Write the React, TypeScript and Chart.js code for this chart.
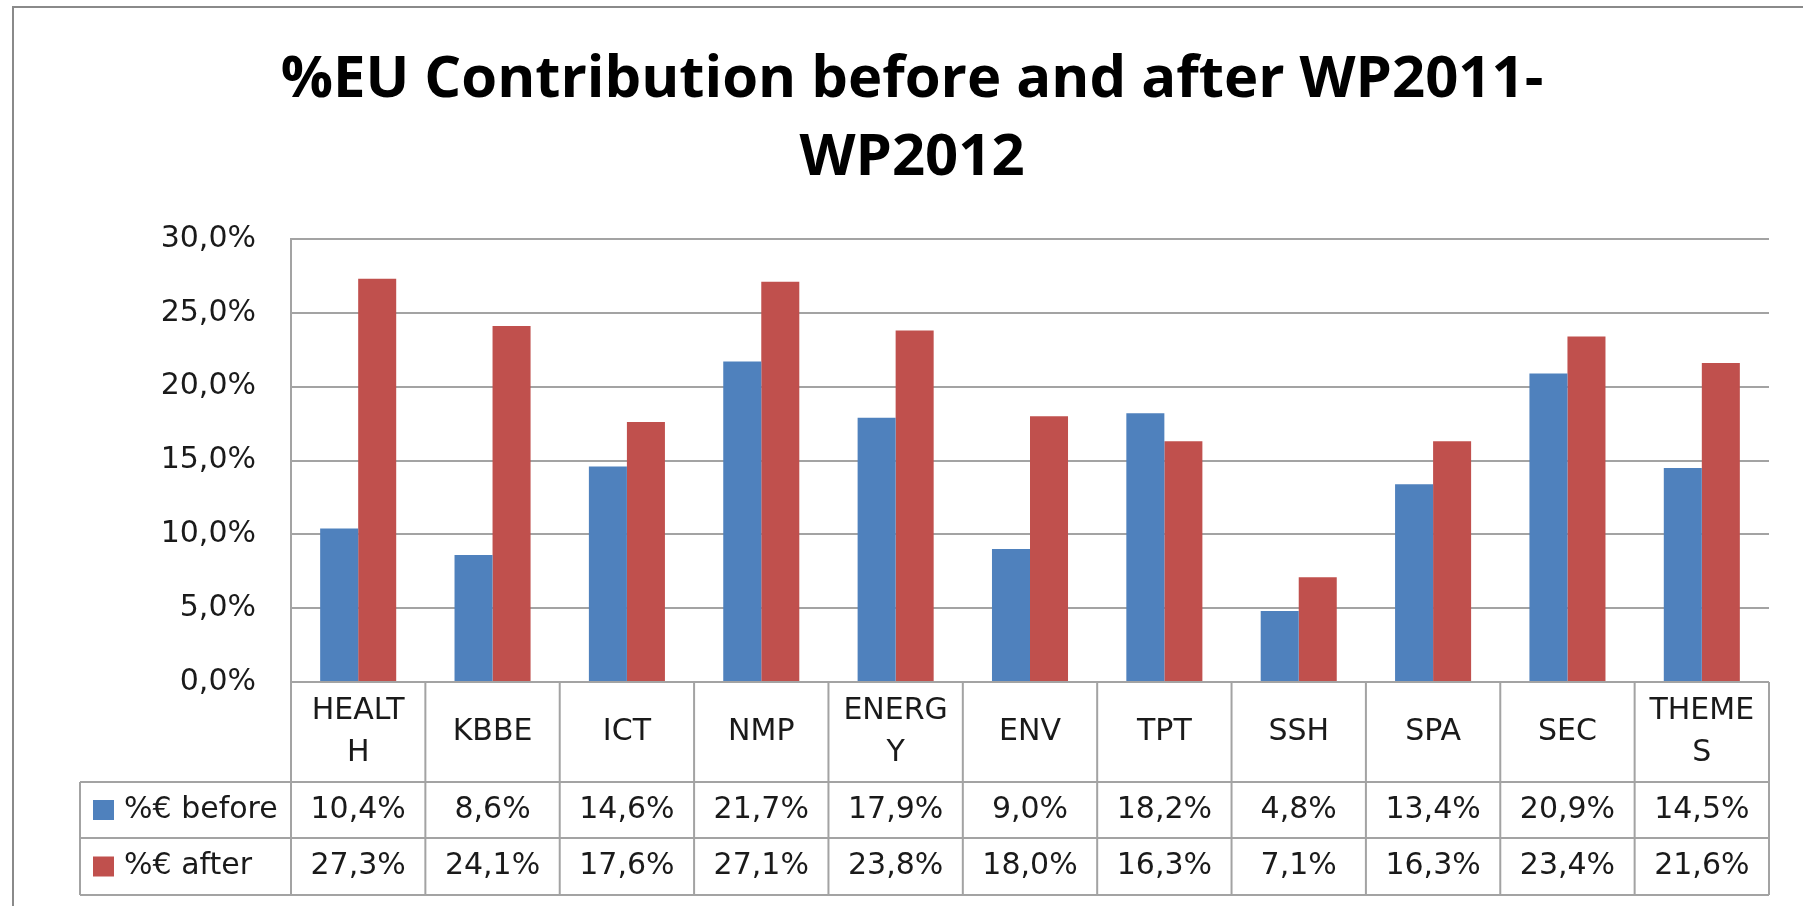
import React, { useEffect, useRef } from "react";
import { Chart, registerables } from "chart.js";

Chart.register(...registerables);

const categories = ["HEALTH", "KBBE", "ICT", "NMP", "ENERGY", "ENV", "TPT", "SSH", "SPA", "SEC", "THEMES"];
const categoryLabels = [["HEALT", "H"], ["KBBE"], ["ICT"], ["NMP"], ["ENERG", "Y"], ["ENV"], ["TPT"], ["SSH"], ["SPA"], ["SEC"], ["THEME", "S"]];
const beforeValues = [10.4, 8.6, 14.6, 21.7, 17.9, 9.0, 18.2, 4.8, 13.4, 20.9, 14.5];
const afterValues = [27.3, 24.1, 17.6, 27.1, 23.8, 18.0, 16.3, 7.1, 16.3, 23.4, 21.6];
const seriesNames = ["%€ before", "%€ after"];
const seriesColors = ["#4F81BD", "#C0504D"];
const titleLines = ["%EU Contribution before and after WP2011-", "WP2012"];
const yMin = 0;
const yMax = 30;
const yStep = 5;

const fmt = (v: number) => v.toFixed(1).replace(".", ",") + "%";

const TEXT = "#1a1a1a";
const LINE = "#a3a3a3";
const BODY_FONT = '30px "DejaVu Sans"';

const framePlugin = {
  id: "frame",
  beforeDraw(chart: any) {
    const ctx = chart.ctx;
    ctx.save();
    ctx.fillStyle = "#ffffff";
    ctx.fillRect(0, 0, chart.width, chart.height);
    ctx.strokeStyle = "#8a8a8a";
    ctx.lineWidth = 2;
    ctx.strokeRect(13, 7, chart.width + 20, chart.height + 20);
    ctx.restore();
  },
};

const tablePlugin = {
  id: "dataTable",
  afterDraw(chart: any) {
    const ctx = chart.ctx;
    const area = chart.chartArea;
    const xs = chart.scales.x;
    const n = chart.data.labels.length;
    const colW = (area.right - area.left) / n;
    const top = area.bottom;
    const r1 = top + 100;
    const r2 = top + 156;
    const r3 = top + 213;
    const legendLeft = 80;

    ctx.save();
    ctx.strokeStyle = LINE;
    ctx.lineWidth = 2;
    ctx.beginPath();
    [r1, r2, r3].forEach((y) => {
      ctx.moveTo(legendLeft, y);
      ctx.lineTo(area.right, y);
    });
    for (let i = 0; i <= n; i++) {
      const x = area.left + i * colW;
      ctx.moveTo(x, top);
      ctx.lineTo(x, r3);
    }
    ctx.moveTo(legendLeft, r1);
    ctx.lineTo(legendLeft, r3);
    ctx.stroke();

    ctx.fillStyle = TEXT;
    ctx.font = BODY_FONT;
    ctx.textAlign = "center";
    ctx.textBaseline = "middle";
    for (let i = 0; i < n; i++) {
      const cx = xs.getPixelForValue(i);
      const lines = categoryLabels[i];
      const cy = (top + r1) / 2;
      const lh = 42;
      lines.forEach((ln, k) => {
        ctx.fillText(ln, cx, cy + (k - (lines.length - 1) / 2) * lh);
      });
      chart.data.datasets.forEach((ds: any, d: number) => {
        const y = d === 0 ? (r1 + r2) / 2 : (r2 + r3) / 2;
        ctx.fillText(fmt(ds.data[i]), cx, y);
      });
    }
    ctx.textAlign = "left";
    chart.data.datasets.forEach((ds: any, d: number) => {
      const y = d === 0 ? (r1 + r2) / 2 : (r2 + r3) / 2;
      ctx.fillStyle = ds.backgroundColor;
      ctx.fillRect(93, y - 10, 21, 20);
      ctx.fillStyle = TEXT;
      ctx.fillText(ds.label, 124, y);
    });
    ctx.restore();
  },
};

export default function App() {
  const ref = useRef<HTMLCanvasElement | null>(null);
  useEffect(() => {
    if (!ref.current) return;
    const chart = new Chart(ref.current, {
      type: "bar",
      data: {
        labels: categories,
        datasets: [
          { label: seriesNames[0], data: beforeValues, backgroundColor: seriesColors[0], categoryPercentage: 0.566, barPercentage: 1 },
          { label: seriesNames[1], data: afterValues, backgroundColor: seriesColors[1], categoryPercentage: 0.566, barPercentage: 1 },
        ],
      },
      options: {
        responsive: false,
        animation: false,
        layout: { padding: { left: 55, right: 55, top: 0, bottom: 224 } },
        plugins: {
          legend: { display: false },
          tooltip: { enabled: false },
          title: {
            display: true,
            text: titleLines,
            color: "#000",
            font: { family: "Open Sans", weight: "bold", size: 58, lineHeight: 78 / 58 },
            padding: { top: 41, bottom: 42 },
          },
        },
        scales: {
          x: { display: false },
          y: {
            min: yMin,
            max: yMax,
            ticks: {
              stepSize: yStep,
              padding: 35,
              color: TEXT,
              font: { family: "DejaVu Sans", size: 30 },
              callback: (v: any) => fmt(Number(v)),
            },
            grid: { color: LINE, lineWidth: 2, drawTicks: false },
            border: { display: true, color: LINE, width: 2 },
            afterFit: (s: any) => {
              s.width = 236;
            },
          },
        },
      },
      plugins: [framePlugin, tablePlugin],
    });
    return () => chart.destroy();
  }, []);
  return (
    <div style={{ position: "fixed", left: 0, top: 0, width: 1803, height: 906, overflow: "hidden", background: "#fff" }}>
      <canvas ref={ref} width={1824} height={906} style={{ display: "block", width: 1824, height: 906 }} />
    </div>
  );
}
